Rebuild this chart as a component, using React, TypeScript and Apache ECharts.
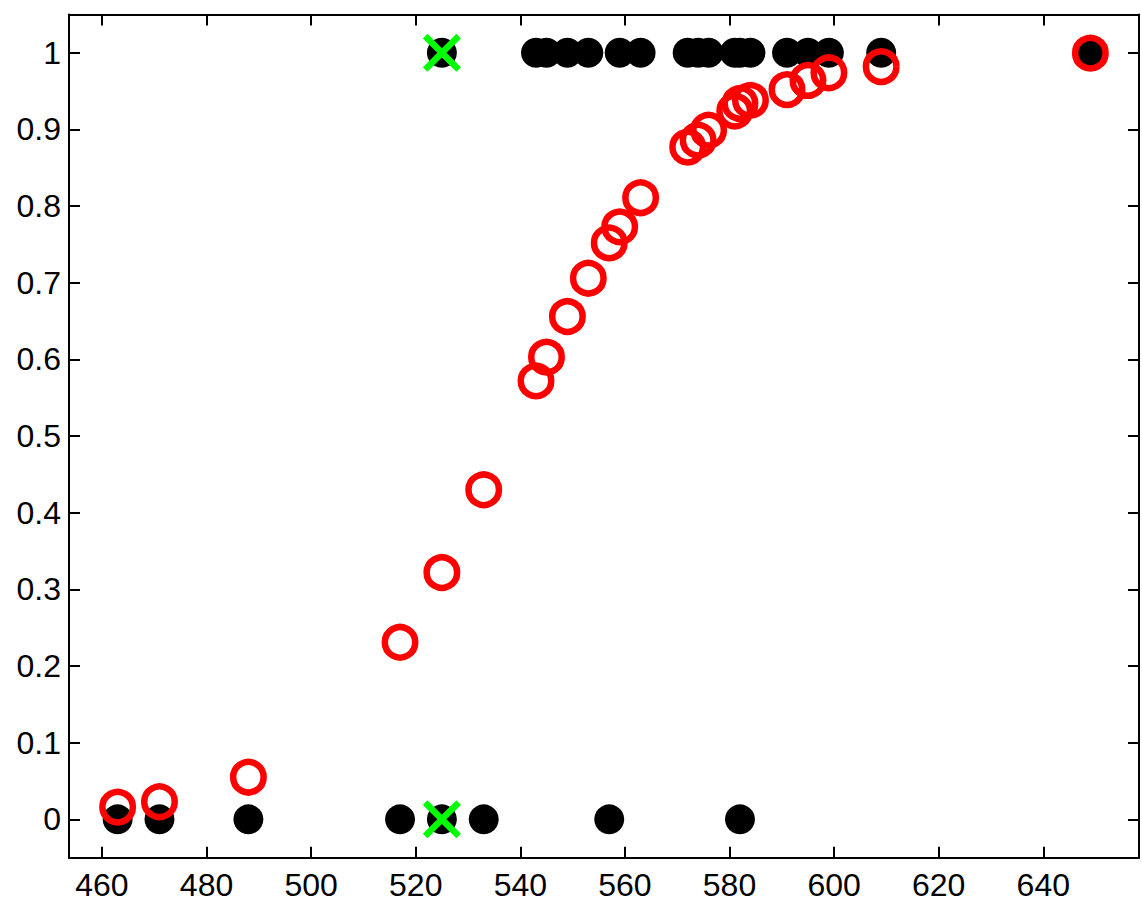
import React, { useEffect, useRef } from "react";
import * as echarts from "echarts";

// Observed outcomes (0 or 1) at each x
const zeroX = [463, 471, 488, 517, 525, 533, 557, 582];
const oneX = [525, 543, 545, 549, 553, 559, 563, 572, 574, 576, 581, 582, 584, 591, 595, 599, 609, 649];

// Fitted probabilities (red rings)
const probX = [463, 471, 488, 517, 525, 533, 543, 545, 549, 553, 557, 559, 563, 572, 574, 576, 581, 582, 584, 591, 595, 599, 609, 649];
const probY = [0.016, 0.023, 0.055, 0.231, 0.322, 0.43, 0.572, 0.603, 0.656, 0.706, 0.752, 0.773, 0.811, 0.877, 0.886, 0.899, 0.924, 0.934, 0.938, 0.952, 0.964, 0.974, 0.982, 0.9996];

// Highlighted points (green crosses)
const markX = [525, 525];
const markY = [1, 0];

const X_MIN = 453.7;
const X_MAX = 658.3;
const Y_MIN = -0.05;
const Y_MAX = 1.05;
const X_STEP = 20;
const Y_STEP = 0.1;

const CROSS =
  "path://M0,12L12,0L50,38L88,0L100,12L62,50L100,88L88,100L50,62L12,100L0,88L38,50Z";

const isMultiple = (v: number, step: number) => Math.abs(v / step - Math.round(v / step)) < 1e-6;

export default function App() {
  const ref = useRef<HTMLDivElement>(null);

  useEffect(() => {
    if (!ref.current) return;
    const chart = echarts.init(ref.current, null, { renderer: "svg" });
    const font = "'Liberation Sans', Arial, Helvetica, sans-serif";
    const axisLine = { show: true, onZero: false, lineStyle: { color: "#000", width: 2 } };
    const axisTick = { show: true, inside: true, length: 11, lineStyle: { color: "#000", width: 2 } };
    const xBase = {
      type: "value" as const,
      min: X_MIN,
      max: X_MAX,
      minInterval: X_STEP,
      maxInterval: X_STEP,
      splitLine: { show: false },
      axisLine,
      axisTick,
    };
    const yBase = {
      type: "value" as const,
      min: Y_MIN,
      max: Y_MAX,
      minInterval: Y_STEP,
      maxInterval: Y_STEP,
      splitLine: { show: false },
      axisLine,
      axisTick,
    };
    chart.setOption({
      animation: false,
      backgroundColor: "#fff",
      grid: { left: 69, top: 14.5, right: 3, bottom: 44.3, containLabel: false },
      xAxis: [
        {
          ...xBase,
          position: "bottom",
          axisLabel: {
            show: true,
            color: "#000",
            fontFamily: font,
            fontSize: 32,
            lineHeight: 30,
            margin: 12,
            formatter: (v: number) => (isMultiple(v, X_STEP) ? String(Math.round(v)) : ""),
          },
        },
        { ...xBase, position: "top", axisLabel: { show: false } },
      ],
      yAxis: [
        {
          ...yBase,
          position: "left",
          axisLabel: {
            show: true,
            color: "#000",
            fontFamily: font,
            fontSize: 32,
            margin: 8,
            formatter: (v: number) => (isMultiple(v, Y_STEP) ? String(Number(v.toFixed(1))) : ""),
          },
        },
        { ...yBase, position: "right", axisLabel: { show: false } },
      ],
      series: [
        {
          type: "scatter",
          data: zeroX.map((x) => [x, 0]).concat(oneX.map((x) => [x, 1])),
          symbol: "circle",
          symbolSize: 30,
          itemStyle: { color: "#000", opacity: 1 },
          silent: true,
        },
        {
          type: "scatter",
          data: probX.map((x, i) => [x, probY[i]]),
          symbol: "circle",
          symbolSize: 30.5,
          itemStyle: { color: "none", borderColor: "#ff0000", borderWidth: 6.5, opacity: 1 },
          silent: true,
        },
        {
          type: "scatter",
          data: markX.map((x, i) => [x, markY[i]]),
          symbol: CROSS,
          symbolSize: 38,
          itemStyle: { color: "#00ff00", opacity: 1 },
          silent: true,
        },
      ],
    });
    return () => chart.dispose();
  }, []);

  return (
    <div
      ref={ref}
      style={{ position: "fixed", left: 0, top: 0, width: 1142, height: 902, background: "#fff" }}
    />
  );
}
